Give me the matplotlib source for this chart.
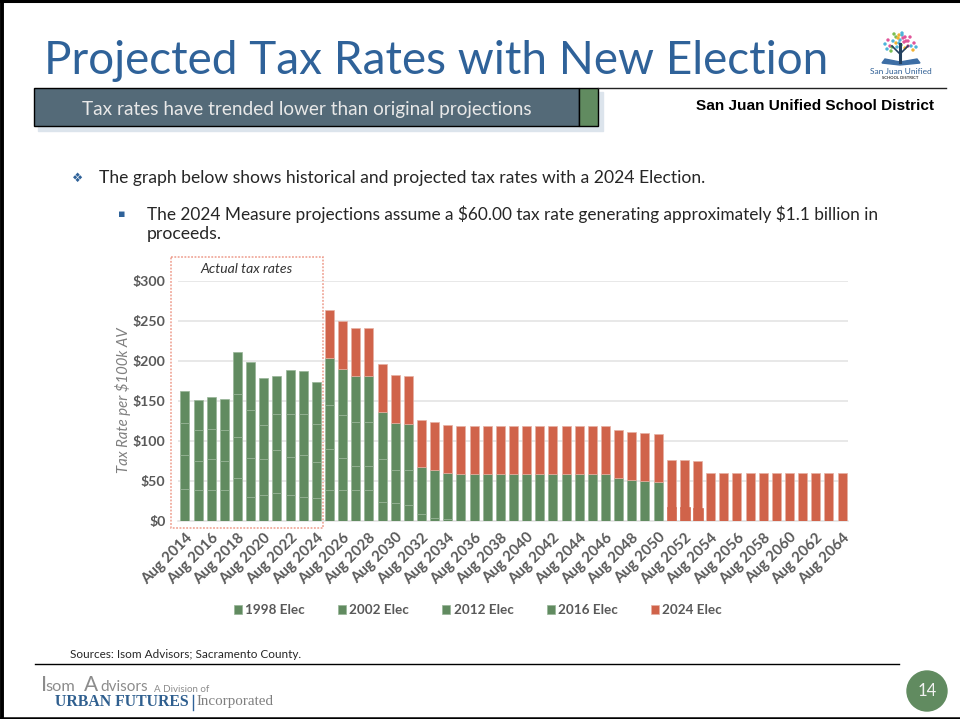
#!/usr/bin/env python3
# -*- coding: utf-8 -*-
"""
    Projected tax rates slide, San Juan Unified School District
    plot.py
"""
import matplotlib
matplotlib.use("Agg")

import matplotlib.pyplot as plt
from matplotlib.patches import Rectangle, Circle, Polygon

# the years on the x axis
years = list(range(2014, 2065))

# tax rate per $100k AV for each election, one value per year
elec_1998 = [40, 38, 38, 38, 53, 30, 32, 35, 32, 30, 29, 38, 38, 39, 39,
             0, 0, 0, 0, 0, 0, 0, 0, 0, 0, 0, 0, 0, 0, 0, 0, 0, 0, 0, 0, 0, 0,
             0, 0, 0, 0, 0, 0, 0, 0, 0, 0, 0, 0, 0, 0]
elec_2002 = [42, 37, 39, 37, 52, 49, 45, 54, 48, 52, 44, 52, 40, 29, 29,
             23, 22, 20, 8, 4, 2, 0, 0, 0, 0, 0, 0, 0, 0, 0, 0, 0, 0, 0, 0, 0, 0,
             0, 0, 0, 0, 0, 0, 0, 0, 0, 0, 0, 0, 0, 0]
elec_2012 = [40, 38, 38, 39, 53, 60, 43, 45, 53, 51, 48, 55, 54, 55, 55,
             54, 42, 43, 0, 0, 0, 0, 0, 0, 0, 0, 0, 0, 0, 0, 0, 0, 0, 0, 0, 0, 0,
             0, 0, 0, 0, 0, 0, 0, 0, 0, 0, 0, 0, 0, 0]
elec_2016 = [40, 38, 40, 38, 53, 60, 59, 47, 55, 54, 52, 58, 58, 58, 58,
             59, 58, 58, 59, 59, 58, 58, 58, 58, 58, 58, 58, 58, 58, 58, 58, 58, 58, 53, 51, 50, 48,
             0, 0, 0, 0, 0, 0, 0, 0, 0, 0, 0, 0, 0, 0]
elec_2024 = [0, 0, 0, 0, 0, 0, 0, 0, 0, 0, 0, 61, 60, 60, 60,
             60, 60, 60, 59, 60, 60, 60, 60, 60, 60, 60, 60, 60, 60, 60, 60, 60, 60, 60, 60, 60, 60,
             60, 60, 60, 60, 60, 60, 60, 60, 60, 60, 60, 60, 60, 60]
# short red stubs under the 2024 bars in 2051-2053
elec_2024_stub = [0] * 37 + [16, 16, 15] + [0] * 11

series_names = ["1998 Elec", "2002 Elec", "2012 Elec", "2016 Elec", "2024 Elec"]
y_ticks = [0, 50, 100, 150, 200, 250, 300]

GREEN = "#618B60"
RED = "#D0634A"
GRAY = "#595959"
BLUE = "#2F6299"
W, H = 960, 719

plt.rcParams["font.family"] = ["Lato", "DejaVu Sans"]

fig = plt.figure(figsize=(W / 100, H / 100), dpi=100)

# slide background in pixel coordinates
deco = fig.add_axes([0, 0, 1, 1], zorder=0)
deco.set_xlim(0, W)
deco.set_ylim(H, 0)
deco.axis("off")

# chart
ax = fig.add_axes([178 / W, 1 - 520.7 / H, 670 / W, 240 / H], zorder=1)
ax.patch.set_alpha(0)
x = list(range(len(years)))
all_series = [elec_1998, elec_2002, elec_2012, elec_2016, elec_2024]
colors = [GREEN, GREEN, GREEN, GREEN, RED]
edges = ["#98B597", "#98B597", "#98B597", "#98B597", "#E6B0A3"]
base = [0] * len(x)
handles = []
for vals, name, col, edge in zip(all_series, series_names, colors, edges):
    # the 2024 measure sits on top of its own stub where there is one
    if name == "2024 Elec":
        base = [b + s for b, s in zip(base, elec_2024_stub)]
    shown = [v if v > 0 else float("nan") for v in vals]
    bars = ax.bar(x, shown, width=0.68, bottom=base, color=col, edgecolor=edge,
                  linewidth=0.5, label=name, zorder=3)
    handles.append(bars)
    base = [b + v for b, v in zip(base, vals)]

stub_x = [i + 0.06 for i in x]
stub_h = [s if s > 0 else float("nan") for s in elec_2024_stub]
ax.bar(stub_x, stub_h, width=0.68, color=RED, edgecolor=RED, linewidth=1.2, zorder=4)

ax.set_xlim(-0.53, 50.45)
ax.set_ylim(0, 300)
ax.set_yticks(y_ticks, [f"${t}" for t in y_ticks], fontsize=10.2, fontweight="bold", color=GRAY)
ax.set_xticks(x[::2], [f"Aug {y}" for y in years[::2]], rotation=45, ha="right",
              rotation_mode="anchor", fontsize=10.8, fontweight="bold", color=GRAY)
ax.tick_params(length=0)
ax.tick_params(axis="x", pad=7)
ax.tick_params(axis="y", pad=9)
ax.grid(axis="y", color="#E4E4E4", linewidth=1.2, zorder=0)
ax.set_axisbelow(True)
for side in ["top", "left", "right"]:
    ax.spines[side].set_visible(False)
ax.spines["bottom"].set_color("#E4E4E4")
ax.spines["bottom"].set_linewidth(1.2)
ax.set_ylabel("Tax Rate per $100k AV", fontsize=10.7, style="italic", color="#7F7F7F")
ax.yaxis.set_label_coords((131 - 178) / 670, 0.501)

fig.legend(handles, series_names, ncol=5, loc="center", bbox_to_anchor=(478 / W, 1 - 610 / H),
           frameon=False, handlelength=0.6, handleheight=0.6, handletextpad=0.25,
           columnspacing=2.45, prop={"size": 9.7, "weight": "bold"}, labelcolor=GRAY)

# box around the actual tax rates
deco.add_patch(Rectangle((171, 257), 152, 271, fill=False, edgecolor="#EE9C8C",
                         linewidth=1.1, linestyle=(0, (1.2, 1))))
deco.text(247, 269, "Actual tax rates", fontsize=10.1, style="italic", color="#333333",
          ha="center", va="center")

# slide frame, open on the right
deco.plot([1.5, 1.5], [0, H], color="black", linewidth=2.8)
deco.plot([0, W], [1, 1], color="black", linewidth=2.2)
deco.plot([0, W], [717.8, 717.8], color="black", linewidth=1.8)

# title and banner
deco.text(44, 61, "Projected Tax Rates with New Election", fontsize=33, color=BLUE, va="center")
deco.add_patch(Rectangle((38, 92), 565, 39, color="#DCE4EC", zorder=1))
deco.add_patch(Rectangle((34, 88), 545, 38, facecolor="#546A78", edgecolor="black", linewidth=1, zorder=2))
deco.add_patch(Rectangle((579, 88), 19, 38, facecolor=GREEN, edgecolor="black", linewidth=1, zorder=2))
deco.plot([598, 946], [88, 88], color="#222222", linewidth=1)
deco.text(307, 109, "Tax rates have trended lower than original projections", fontsize=13.7,
          color="#E8E8E8", ha="center", va="center", zorder=3)
deco.text(934, 106.5, "San Juan Unified School District", fontsize=11.1, fontweight="bold",
          family="Liberation Sans", color="black", ha="right", va="center")

# logo: tree over an open book, then the name
leaf_x = [890, 893, 896, 899, 902, 905, 908, 911, 892, 896, 900, 904, 908, 897, 901, 905,
          885, 888, 914, 916, 894, 898, 902, 906, 910, 887, 891, 913, 899, 903]
leaf_y = [46, 41, 37, 35, 35, 37, 41, 46, 47, 43, 40, 42, 46, 47, 45, 48,
          44, 40, 43, 47, 34, 38, 33, 41, 37, 49, 51, 50, 43, 38]
leaf_c = ["#E0559A", "#4FB3D9", "#7BBF52", "#F2B233", "#4FB3D9", "#E0559A"] * 5
deco.scatter(leaf_x, leaf_y, s=6, c=leaf_c, linewidths=0)
deco.plot([900, 900], [62, 44], color="#22405F", linewidth=2.2)
deco.plot([892, 900, 908], [46, 54, 46], color="#22405F", linewidth=1.2)
deco.add_patch(Polygon([(882, 63), (900, 65), (920, 63), (917, 59), (900, 62), (885, 59)], color="#3D6EA5"))
deco.text(901, 71, "San Juan Unified", fontsize=6, color="#2F5F95", ha="center", va="center")
deco.text(900, 78, "SCHOOL DISTRICT", fontsize=3, fontweight="bold", color="#333333", ha="center", va="center")

# body text
deco.text(78, 178, "❖", fontsize=9, color=BLUE, ha="center", va="center", family="DejaVu Sans")
deco.text(99, 178, "The graph below shows historical and projected tax rates with a 2024 Election.",
          fontsize=12.65, color="#262626", va="center")
deco.text(122, 214, "▪", fontsize=8, color=BLUE, ha="center", va="center", family="DejaVu Sans")
deco.text(147, 214, "The 2024 Measure projections assume a $60.00 tax rate generating approximately $1.1 billion in",
          fontsize=12.45, color="#262626", va="center", parse_math=False)
deco.text(147, 234, "proceeds.", fontsize=12.7, color="#262626", va="center")

# footer
deco.text(70, 655, "Sources: Isom Advisors; Sacramento County.", fontsize=8.45, color="#262626", va="center")
deco.plot([35, 899], [664, 664], color="black", linewidth=1)
deco.text(41, 685, "I", fontsize=15.5, color="#8C8C8C", va="center")
deco.text(45.5, 687, "som", fontsize=11.8, color="#8C8C8C", va="center")
deco.text(84, 685, "A", fontsize=15, color="#8C8C8C", va="center")
deco.text(100, 687, "dvisors", fontsize=11, color="#8C8C8C", va="center")
deco.text(154, 689, "A Division of", fontsize=7, color="#8C8C8C", va="center")
deco.text(55, 702, "URBAN FUTURES", fontsize=11.3, fontweight="bold", family="Liberation Serif",
          color="#2F5F8F", va="center")
deco.plot([193, 193], [695, 710], color="#2F6299", linewidth=1)
deco.text(197, 702, "Incorporated", fontsize=10.8, family="Liberation Serif", color="#7F7F7F", va="center")
deco.add_patch(Circle((927, 691), 20, color=GREEN))
deco.text(927, 691, "14", fontsize=12, color="#F2F2F2", ha="center", va="center")

fig.savefig("out.png", dpi=100)
